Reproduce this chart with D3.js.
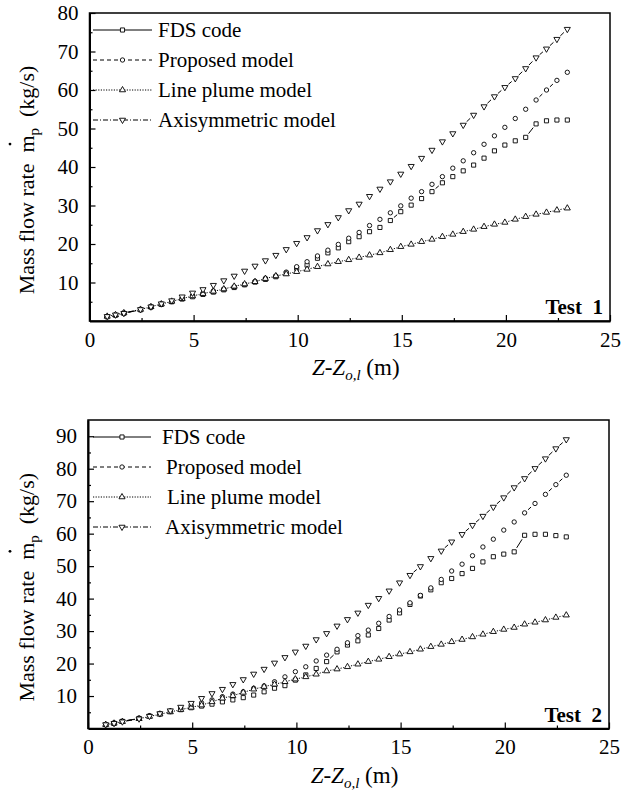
<!DOCTYPE html>
<html>
<head>
<meta charset="utf-8">
<script src="https://cdn.jsdelivr.net/npm/d3@7"></script>
<style>
  html, body { margin: 0; padding: 0; background: #fff; }
  svg { display: block; font-family: "Liberation Serif", "Times New Roman", serif; }
  text { white-space: pre; }
</style>
</head>
<body>
<svg id="chart" width="635" height="790"></svg>
<script>
// Height above the fire source, Z - Z_o,l (m)
const zValues = [0.85, 1.25, 1.65, 2.45, 2.95, 3.45, 3.95, 4.45, 4.95, 5.45, 5.95, 6.45, 6.95, 7.45, 7.95,
  8.45, 8.95, 9.45, 9.95, 10.45, 10.95, 11.45, 11.95, 12.45, 12.95, 13.45, 13.95, 14.45, 14.95, 15.45,
  15.95, 16.45, 16.95, 17.45, 17.95, 18.45, 18.95, 19.45, 19.95, 20.45, 20.95, 21.45, 21.95, 22.45, 22.95];

const seriesNames = ["FDS code", "Proposed model", "Line plume model", "Axisymmetric model"];

// Test 1, mass flow rate (kg/s)
const test1FDS = [1.1, 1.5, 2.0, 2.9, 3.6, 4.3, 5.0, 5.7, 6.3, 6.9, 7.5, 8.1, 8.7, 9.4, 10.1,
  10.8, 11.5, 12.4, 13.7, 14.5, 16.3, 17.7, 19.0, 20.6, 21.9, 23.2, 24.3, 26.1, 28.4, 30.1,
  31.8, 33.6, 35.9, 37.5, 39.0, 40.5, 42.3, 44.2, 45.7, 46.8, 47.7, 51.2, 52.0, 52.2, 52.2];
const test1Proposed = [1.2, 1.6, 2.1, 3.0, 3.7, 4.4, 5.1, 5.9, 6.6, 7.2, 7.8, 8.3, 8.9, 9.5, 10.3,
  11.1, 11.7, 12.7, 14.1, 15.4, 16.9, 18.4, 19.9, 21.5, 23.0, 24.8, 26.4, 28.1, 29.9, 31.9,
  33.6, 35.5, 37.5, 39.7, 41.6, 43.7, 45.9, 48.1, 50.3, 52.6, 55.0, 57.4, 60.0, 62.5, 64.6];
const test1LinePlume = [1.2, 1.6, 2.1, 3.0, 3.7, 4.4, 5.1, 5.8, 6.5, 7.1, 7.7, 8.3, 9.0, 9.6, 10.2,
  11.0, 11.7, 12.2, 12.8, 13.4, 14.1, 14.8, 15.4, 15.9, 16.5, 17.1, 17.7, 18.5, 19.3, 19.9,
  20.6, 21.2, 21.9, 22.5, 23.2, 23.8, 24.5, 25.1, 25.6, 26.4, 27.1, 27.7, 28.2, 28.8, 29.3];
const test1Axisym = [1.2, 1.6, 2.0, 3.0, 3.7, 4.5, 5.3, 6.3, 7.3, 8.2, 9.3, 10.5, 11.7, 13.0, 14.3,
  15.7, 17.1, 18.6, 20.2, 21.7, 23.5, 25.1, 26.9, 28.7, 30.4, 32.4, 34.3, 36.2, 38.2, 40.2,
  42.3, 44.4, 46.6, 48.7, 50.9, 53.5, 55.7, 58.3, 60.7, 63.0, 65.6, 68.4, 70.7, 73.2, 75.8];

// Test 2, mass flow rate (kg/s)
const test2FDS = [1.2, 1.6, 2.2, 3.1, 3.8, 4.5, 5.2, 5.8, 6.4, 6.9, 7.5, 8.2, 8.8, 9.5, 10.3,
  11.3, 12.4, 13.2, 14.9, 16.5, 18.5, 20.6, 23.6, 25.7, 27.0, 28.8, 30.8, 33.4, 35.6, 38.2,
  40.8, 42.7, 44.9, 46.2, 47.7, 49.3, 51.3, 52.9, 53.7, 54.4, 59.5, 59.8, 59.8, 59.4, 59.0];
const test2Proposed = [1.3, 1.7, 2.2, 3.1, 3.9, 4.6, 5.4, 6.3, 7.2, 7.9, 8.8, 9.8, 10.6, 11.3, 12.4,
  13.1, 14.4, 15.9, 17.5, 19.0, 20.8, 22.6, 24.4, 26.4, 28.6, 30.3, 32.4, 34.5, 36.5, 38.7,
  41.0, 43.3, 45.9, 48.5, 50.6, 53.2, 55.9, 58.3, 61.1, 63.6, 66.4, 69.3, 72.1, 75.1, 78.0];
const test2LinePlume = [1.2, 1.6, 2.1, 3.0, 3.7, 4.4, 5.1, 5.8, 6.5, 7.2, 8.2, 9.3, 10.1, 11.1, 12.1,
  12.9, 13.6, 14.4, 15.2, 15.9, 16.7, 17.7, 18.3, 19.0, 19.8, 20.6, 21.3, 22.1, 22.9, 23.6,
  24.4, 25.2, 25.9, 26.7, 27.4, 28.2, 29.0, 29.8, 30.5, 31.1, 32.1, 32.7, 33.4, 34.2, 34.9];
const test2Axisym = [1.2, 1.6, 2.1, 3.0, 3.8, 4.6, 5.5, 6.6, 7.8, 9.3, 10.8, 12.1, 13.6, 15.1, 16.8,
  18.3, 20.2, 21.9, 23.6, 25.4, 27.4, 29.3, 31.6, 33.6, 35.6, 38.0, 40.1, 42.4, 44.9, 47.2,
  49.9, 52.4, 54.7, 57.5, 59.8, 62.6, 65.4, 68.2, 71.1, 74.2, 77.0, 80.1, 83.1, 86.2, 89.0];

// Axis ticks and labels
const xTickValues = [0, 5, 10, 15, 20, 25];
const xMinorTicks = [2.5, 7.5, 12.5, 17.5, 22.5];
const test1YTicks = [10, 20, 30, 40, 50, 60, 70, 80];
const test1YMinor = [5, 15, 25, 35, 45, 55, 65, 75];
const test2YTicks = [10, 20, 30, 40, 50, 60, 70, 80, 90];
const test2YMinor = [5, 15, 25, 35, 45, 55, 65, 75, 85];
const testLabels = ["Test  1", "Test  2"];

// Drawing styles per series: symbol, dash pattern, gap left around each symbol,
// and the shortest connecting piece still worth drawing
const seriesStyles = [
  { symbol: d3.symbolSquare, size: 17, rotate: 0, dash: null, gap: 4.7, minSeg: 4.2 },
  { symbol: d3.symbolCircle, size: 15, rotate: 0, dash: "4,3", gap: 4.7, minSeg: 4.6 },
  { symbol: d3.symbolTriangle, size: 16, rotate: 0, dash: "1.2,1.4", gap: 3.6, minSeg: 1 },
  { symbol: d3.symbolTriangle, size: 16, rotate: 180, dash: "5,2,1,2", gap: 4.7, minSeg: 4.1 }
];

const FONT = 21;
const svg = d3.select("#chart");

function drawPanel(p) {
  const x = d3.scaleLinear().domain([0, 25]).range([p.left, p.right]);
  const y = d3.scaleLinear().domain([0, p.yMax]).range([p.bottom, p.top]);
  const g = svg.append("g");

  // plot frame
  g.append("rect")
    .attr("x", p.left).attr("y", p.top)
    .attr("width", p.right - p.left).attr("height", p.bottom - p.top)
    .attr("fill", "none").attr("stroke", "#000").attr("stroke-width", 1.5);

  // x axis: inward ticks, labels below
  const xa = g.append("g").attr("transform", `translate(0,${p.bottom})`)
    .call(d3.axisBottom(x).tickValues(xTickValues).tickSize(-6).tickSizeOuter(0)
      .tickPadding(11).tickFormat(d3.format("d")));
  g.append("g").attr("transform", `translate(0,${p.bottom})`)
    .call(d3.axisBottom(x).tickValues(xMinorTicks).tickSize(-3).tickSizeOuter(0).tickFormat(""))
    .select(".domain").remove();

  // y axis: inward ticks, labels to the left
  const ya = g.append("g").attr("transform", `translate(${p.left},0)`)
    .call(d3.axisLeft(y).tickValues(p.yTicks).tickSize(-6).tickSizeOuter(0).tickPadding(11));
  g.append("g").attr("transform", `translate(${p.left},0)`)
    .call(d3.axisLeft(y).tickValues(p.yMinor).tickSize(-3).tickSizeOuter(0).tickFormat(""))
    .select(".domain").remove();

  [xa, ya].forEach(a => {
    a.attr("font-family", null).attr("font-size", null);
    a.select(".domain").attr("stroke-width", 2);
    a.selectAll("text").attr("font-size", FONT).attr("fill", "#000");
  });
  g.selectAll(".tick line").attr("stroke-width", 1.2);

  // series: line segments with a gap round each symbol, then the symbols
  p.series.forEach((vals, i) => {
    const st = seriesStyles[i];
    const pts = zValues.map((z, k) => [x(z), y(vals[k])]);
    const segs = [];
    for (let k = 0; k < pts.length - 1; k++) {
      const [x1, y1] = pts[k], [x2, y2] = pts[k + 1];
      const L = Math.hypot(x2 - x1, y2 - y1);
      if (L - 2 * st.gap < st.minSeg) continue;
      const ux = (x2 - x1) / L, uy = (y2 - y1) / L;
      segs.push([x1 + ux * st.gap, y1 + uy * st.gap, x2 - ux * st.gap, y2 - uy * st.gap]);
    }
    g.append("g").selectAll("line").data(segs).join("line")
      .attr("x1", d => d[0]).attr("y1", d => d[1]).attr("x2", d => d[2]).attr("y2", d => d[3])
      .attr("stroke", "#000").attr("stroke-width", 1)
      .attr("stroke-dasharray", st.dash);

    g.append("g").selectAll("path").data(pts).join("path")
      .attr("d", d3.symbol(st.symbol, st.size))
      .attr("transform", d => `translate(${d[0]},${d[1]}) rotate(${st.rotate})`)
      .attr("fill", "#fff").attr("stroke", "#000").attr("stroke-width", 0.9);
  });

  // legend
  seriesNames.forEach((name, i) => {
    const st = seriesStyles[i];
    const ly = p.legendY[i];
    g.append("line")
      .attr("x1", p.legendX0).attr("x2", p.legendX1).attr("y1", ly).attr("y2", ly)
      .attr("stroke", "#000").attr("stroke-width", 1).attr("stroke-dasharray", st.dash);
    g.append("path")
      .attr("d", d3.symbol(st.symbol, st.size))
      .attr("transform", `translate(${(p.legendX0 + p.legendX1) / 2},${ly}) rotate(${st.rotate})`)
      .attr("fill", "#fff").attr("stroke", "#000").attr("stroke-width", 0.9);
    g.append("text")
      .attr("x", p.legendTextX[i]).attr("y", ly).attr("dy", "0.35em")
      .attr("font-size", FONT).text(name);
  });

  // test label
  g.append("text")
    .attr("x", p.right - 7).attr("y", p.bottom - 7)
    .attr("text-anchor", "end").attr("font-size", FONT).attr("font-weight", "bold")
    .text(p.label);

  // x axis title: Z-Z_o,l (m)
  const xt = g.append("text")
    .attr("x", (p.left + p.right) / 2 + 6).attr("y", p.bottom + 54)
    .attr("text-anchor", "middle").attr("font-size", 23);
  xt.append("tspan").attr("font-style", "italic").text("Z-Z");
  xt.append("tspan").attr("font-style", "italic").attr("font-size", 15).attr("dy", 5).text("o,l");
  xt.append("tspan").attr("dy", -5).text(" (m)");

  // y axis title: Mass flow rate m_p (kg/s), with a dot over the m
  const cy = (p.top + p.bottom) / 2 + 13;
  const yg = g.append("g").attr("transform", `translate(34,${cy}) rotate(-90)`);
  const ytl = yg.append("text").attr("x", 0).attr("y", 0)
    .attr("text-anchor", "middle").attr("font-size", 22);
  const lead = "Mass flow rate  ";
  ytl.append("tspan").text(lead);
  ytl.append("tspan").text("m");
  ytl.append("tspan").attr("font-size", 15).attr("dy", 5).text("p");
  ytl.append("tspan").attr("dy", -5).text("  (kg/s)");
  const ext = ytl.node().getExtentOfChar(lead.length);
  yg.append("circle")
    .attr("cx", ext.x + ext.width / 2).attr("cy", -24).attr("r", 1.4).attr("fill", "#000");
}

drawPanel({
  left: 89.5, right: 610, top: 13, bottom: 321, yMax: 80,
  yTicks: test1YTicks, yMinor: test1YMinor,
  series: [test1FDS, test1Proposed, test1LinePlume, test1Axisym],
  legendY: [30, 60, 90, 120], legendX0: 93, legendX1: 152,
  legendTextX: [158, 158, 158, 158],
  label: testLabels[0]
});

drawPanel({
  left: 88, right: 609, top: 420, bottom: 728.5, yMax: 95,
  yTicks: test2YTicks, yMinor: test2YMinor,
  series: [test2FDS, test2Proposed, test2LinePlume, test2Axisym],
  legendY: [437, 467, 497, 527], legendX0: 93, legendX1: 151,
  legendTextX: [162, 166, 167, 165],
  label: testLabels[1]
});
</script>
</body>
</html>
